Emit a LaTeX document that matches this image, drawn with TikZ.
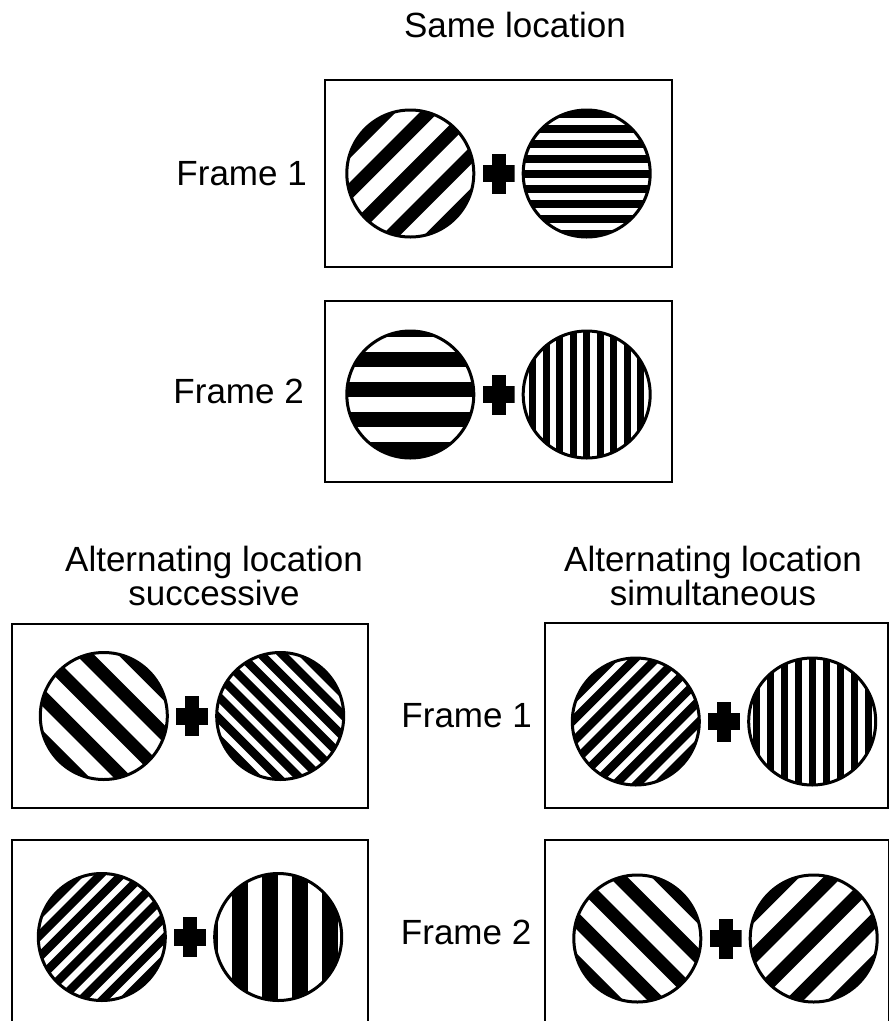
\documentclass[tikz,border=0pt]{standalone}
\usepackage{fontspec}
\setmainfont{Liberation Sans}
\usetikzlibrary{positioning}
\tikzset{
  frame/.style={draw, rectangle, line width=2pt, minimum width=347pt, minimum height=187pt},
  lbl/.style={font=\fontsize{35}{31}\selectfont, inner sep=0pt, align=center},
  plusmark/.style={rectangle, inner sep=0pt, minimum width=32pt, minimum height=40pt,
    path picture={
      \fill ([yshift=-8.5pt]path picture bounding box.west) rectangle ([yshift=8.5pt]path picture bounding box.east);
      \fill ([xshift=-7pt]path picture bounding box.south) rectangle ([xshift=7pt]path picture bounding box.north);
    }},
  % #1 angle, #2 period, #3 black width, #4 phase
  grating/.style n args={4}{circle, draw, line width=3pt, inner sep=0pt, minimum size=127pt,
    path picture={
      \begin{scope}[shift={(path picture bounding box.center)}]
        \foreach \k in {-10,...,10}{
          \pgfmathsetmacro\off{(\k+#4)*#2}
          \draw[line width=#3]
            ({(-80*cos(#1)-\off*sin(#1))*1pt},{(-80*sin(#1)+\off*cos(#1))*1pt}) --
            ({(80*cos(#1)-\off*sin(#1))*1pt},{(80*sin(#1)+\off*cos(#1))*1pt});
        }
      \end{scope}
    }},
}
\begin{document}
\begin{tikzpicture}[x=1pt, y=-1pt]
    \useasboundingbox (0,0) rectangle (889,1021);

    % same location
    \node[lbl, anchor=base] (t0) at (515,37) {Same location};
    \node[frame] (f1) at (498.5,173.5) {};
    \node[frame, minimum height=181pt, below=32pt of f1] (f2) {};
    \node[lbl, left=17pt of f1] (l1) {Frame 1};
    \node[lbl, left=20pt of f2] (l2) {Frame 2};

    \node[plusmark] (p1) at (f1.center) {};
    \node[grating={45}{30pt}{13pt}{0}, left=7pt of p1] (g1a) {};
    \node[grating={0}{15pt}{8pt}{0}, right=7pt of p1] (g1b) {};
    \node[plusmark] (p2) at ([yshift=-3pt]f2.center) {};
    \node[grating={0}{30pt}{15pt}{0.17}, left=7pt of p2] (g2a) {};
    \node[grating={90}{13.5pt}{7pt}{0}, right=7pt of p2] (g2b) {};

    % alternating location, successive
    \node[lbl, anchor=north] (t1) at (214,546) {Alternating location\\successive};
    \node[frame, minimum width=356pt, minimum height=184pt] (s1) at (190,716) {};
    \node[frame, minimum width=356pt, minimum height=184pt, below=30pt of s1] (s2) {};

    \node[plusmark] (p3) at ([xshift=2pt]s1.center) {};
    \node[grating={-45}{30pt}{13pt}{0}, left=7pt of p3] (g3a) {};
    \node[grating={-45}{15pt}{8.5pt}{0}, right=7pt of p3] (g3b) {};
    \node[plusmark] (p4) at ([yshift=-5pt]s2.center) {};
    \node[grating={45}{15pt}{8.5pt}{0}, left=7pt of p4] (g4a) {};
    \node[grating={90}{30pt}{16pt}{0.27}, right=7pt of p4] (g4b) {};

    % alternating location, simultaneous
    \node[lbl, anchor=north] (t2) at (713,546) {Alternating location\\simultaneous};
    \node[frame, minimum width=343pt, minimum height=185pt] (m1) at (716.5,715.5) {};
    \node[frame, minimum width=344pt, minimum height=185pt, below=30pt of m1] (m2) {};
    \node[lbl, left=12pt of m1] (l3) {Frame 1};
    \node[lbl, left=12pt of m2] (l4) {Frame 2};

    \node[plusmark] (p5) at ([xshift=7.5pt,yshift=-6pt]m1.center) {};
    \node[grating={45}{15pt}{8.5pt}{0}, left=7pt of p5] (g5a) {};
    \node[grating={90}{14pt}{7pt}{0}, right=7pt of p5] (g5b) {};
    \node[plusmark] (p6) at ([xshift=9pt,yshift=-6pt]m2.center) {};
    \node[grating={-45}{30pt}{13pt}{0}, left=7pt of p6] (g6a) {};
    \node[grating={45}{30pt}{13pt}{0}, right=7pt of p6] (g6b) {};

\end{tikzpicture}
\end{document}
